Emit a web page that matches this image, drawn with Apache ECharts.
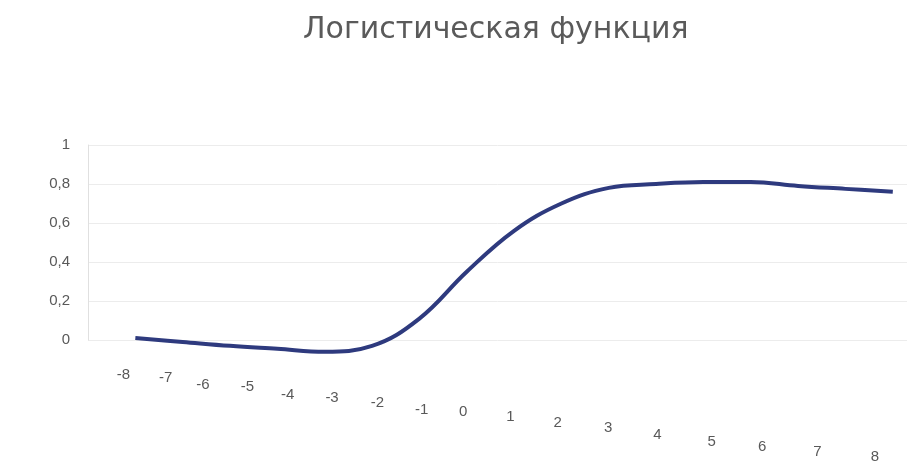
<!DOCTYPE html>
<html>
<head>
<meta charset="utf-8">
<script src="https://cdn.jsdelivr.net/npm/echarts@6/dist/echarts.min.js"></script>
<style>
  html, body { margin: 0; padding: 0; background: #ffffff; }
  #chart { width: 910px; height: 466px; }
</style>
</head>
<body>
<div id="chart"></div>
<script>
// Arguments of the function (x axis) and its computed values
const xValues = [-8, -7, -6, -5, -4, -3, -2, -1, 0, 1, 2, 3, 4, 5, 6, 7, 8];
const yValues = [0.01, -0.01, -0.03, -0.045, -0.06, -0.03, 0.11, 0.35, 0.56, 0.70, 0.78, 0.80, 0.81, 0.81, 0.79, 0.775, 0.76];
const yTicks = [0, 0.2, 0.4, 0.6, 0.8, 1];

// Staggered placement of the x tick labels (pixel shifts: left, down)
const labelShiftX = [12, 17, 27, 30, 37, 40, 42, 45, 51, 51, 51, 48, 46, 39, 36, 28, 18];
const labelShiftY = [0, 3, 10, 12, 20, 23, 28, 35, 37, 42, 48, 53, 60, 67, 72, 77, 82];

const rich = {};
xValues.forEach((v, i) => {
  rich['t' + i] = {
    fontFamily: 'Liberation Sans',
    fontSize: 15,
    color: '#595959',
    padding: [labelShiftY[i], labelShiftX[i] * 2, 0, 0]
  };
});

const points = xValues.map((x, i) => [x, yValues[i]]);

const chart = echarts.init(document.getElementById('chart'), null, { renderer: 'canvas' });
chart.setOption({
  backgroundColor: '#ffffff',
  animation: false,
  title: {
    text: 'Логистическая функция',
    left: 298,
    top: 10,
    textStyle: {
      fontFamily: 'DejaVu Sans',
      fontSize: 30,
      fontWeight: 'normal',
      color: '#5a5a5a'
    }
  },
  grid: { left: 88, right: 3, top: 145, bottom: 126 },
  xAxis: {
    type: 'value',
    min: -9,
    max: 8.3,
    interval: 1,
    axisLine: { show: false },
    axisTick: { show: false },
    splitLine: { show: false },
    axisLabel: {
      margin: 27,
      showMinLabel: true,
      showMaxLabel: true,
      formatter: function (v) {
        const i = xValues.indexOf(v);
        if (i < 0) return '';
        return '{t' + i + '|' + v + '}';
      },
      rich: rich
    }
  },
  yAxis: {
    type: 'value',
    min: yTicks[0],
    max: yTicks[yTicks.length - 1],
    interval: 0.2,
    axisLine: { show: true, onZero: false, lineStyle: { color: '#e0e0e0', width: 1 } },
    axisTick: { show: false },
    splitLine: { show: true, lineStyle: { color: '#ececec', width: 1 } },
    axisLabel: {
      margin: 18,
      fontFamily: 'Liberation Sans',
      fontSize: 15,
      color: '#595959',
      formatter: v => String(Math.round(v * 10) / 10).replace('.', ',')
    }
  },
  series: [{
    type: 'line',
    data: points,
    smooth: 0.4,
    clip: false,
    showSymbol: false,
    lineStyle: { color: '#2e3a7e', width: 4 }
  }]
});
</script>
</body>
</html>
